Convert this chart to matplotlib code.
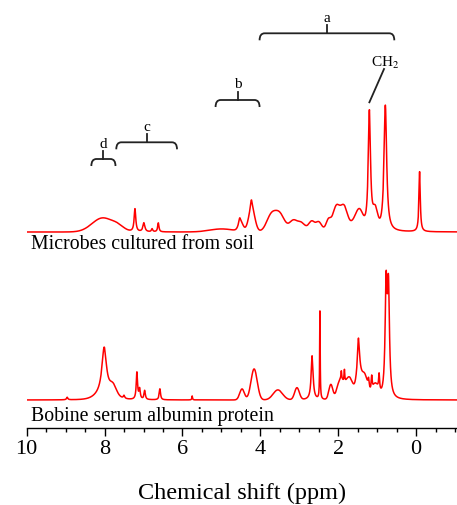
import numpy as np
import matplotlib
matplotlib.use("Agg")
import matplotlib.pyplot as plt
from matplotlib.path import Path
from matplotlib.patches import PathPatch

plt.rcParams['font.family'] = ['Liberation Serif', 'DejaVu Serif']
plt.rcParams['mathtext.fontset'] = 'stix'

# ---------------- data ----------------
# Microbes cultured from soil: sharp lines (Lorentzian) centre ppm, height, half-width
soil_line_ppm = [7.22, 6.99, 6.78, 6.62, 4.53, 4.23, 1.20, 0.79, -0.09]
soil_line_h = [23, 9, 3, 9, 6, 10, 120, 126, 60]
soil_line_w = [0.025, 0.03, 0.02, 0.02, 0.03, 0.03, 0.035, 0.04, 0.02]
# broad humps (Gaussian) centre ppm, height, sigma
soil_hump_ppm = [8.05, 7.65, 5.0, 4.5, 4.22, 3.72, 3.5, 3.15, 2.95, 2.8, 2.68, 2.5, 2.25, 2.05, 1.85, 1.6, 1.45, 1.05]
soil_hump_h = [14, 4, 3, 8, 22, 16, 16, 9, 5, 4, 7, 7, 10, 24, 24, 8, 18, 18]
soil_hump_s = [0.27, 0.15, 0.3, 0.06, 0.08, 0.12, 0.12, 0.1, 0.08, 0.4, 0.07, 0.07, 0.06, 0.09, 0.09, 0.1, 0.09, 0.06]

# Bovine serum albumin protein
bsa_line_ppm = [8.96, 8.01, 7.5, 7.17, 7.10, 6.97, 6.58, 5.75, 2.67, 2.47, 1.92, 1.84, 1.48, 1.22, 1.14, 0.95, 0.77, 0.71]
bsa_line_h = [2.5, 46, 3, 27, 10, 9, 11, 4, 44, 88, 8, 12, 34, 10, 14, 16, 108, 104]
bsa_line_w = [0.02, 0.07, 0.02, 0.02, 0.02, 0.02, 0.02, 0.01, 0.03, 0.008, 0.01, 0.01, 0.03, 0.02, 0.015, 0.015, 0.03, 0.03]
bsa_hump_ppm = [7.95, 7.78, 4.47, 4.16, 3.55, 3.06, 2.19, 1.95, 1.72, 1.48, 1.33, 1.05]
bsa_hump_h = [7, 8, 11, 31, 10, 12, 15, 19, 22, 22, 24, 14]
bsa_hump_s = [0.22, 0.08, 0.06, 0.08, 0.12, 0.06, 0.05, 0.08, 0.1, 0.06, 0.08, 0.08]

labels = ["Microbes cultured from soil", "Bobine serum albumin protein"]
xticks = [10, 8, 6, 4, 2, 0]
xlabel = "Chemical shift (ppm)"

# region brackets: (label, ppm left, ppm right)
bracket_names = ["a", "b", "c", "d"]
bracket_left = [4.02, 5.15, 7.70, 8.34]
bracket_right = [0.56, 4.02, 6.14, 7.72]

# ---------------- model ----------------
x = np.linspace(-1.05, 10, 6000)

def spectrum(lp, lh, lw, hp, hh, hs):
    y = np.zeros_like(x)
    for c, h, w in zip(lp, lh, lw):
        y += h / (1 + ((x - c) / w) ** 2)
    for c, h, s in zip(hp, hh, hs):
        y += h * np.exp(-0.5 * ((x - c) / s) ** 2)
    return y

soil = spectrum(soil_line_ppm, soil_line_h, soil_line_w, soil_hump_ppm, soil_hump_h, soil_hump_s)
bsa = spectrum(bsa_line_ppm, bsa_line_h, bsa_line_w, bsa_hump_ppm, bsa_hump_h, bsa_hump_s)

W, H = 457, 506
fig = plt.figure(figsize=(W / 100, H / 100), dpi=100)
ax = fig.add_axes([26.7 / W, 77 / H, (W - 26.7) / W, 429 / H])
ax.set_xlim(10, -1.05)
ax.set_ylim(0, 429)

top_off, bot_off = 196, 28
ax.plot(x, soil + top_off, color='#ff0000', lw=1.1)
ax.plot(x, bsa + bot_off, color='#ff0000', lw=1.1)

for s in ['top', 'left', 'right']:
    ax.spines[s].set_visible(False)
ax.spines['bottom'].set_linewidth(1.0)
ax.set_yticks([])
ax.set_xticks(xticks)
ax.set_xticks(np.arange(-1.0, 10.01, 0.5), minor=True)
ax.tick_params(axis='x', which='major', direction='out', length=6, width=1, labelsize=16, pad=2)
ax.tick_params(axis='x', which='minor', direction='out', length=3, width=1)
ax.set_xlabel(xlabel, fontsize=17.5, labelpad=17)

ax.text(9.9, top_off - 12, labels[0], fontsize=14.3, ha='left', va='center')
ax.text(9.9, bot_off - 16, labels[1], fontsize=14.3, ha='left', va='center')

# brackets (y in axis pixel units)
bracket_y = [429 - 34.3, 429 - 101, 429 - 143.3, 429 - 160]
def bracket(x1, x2, y, label, drop=7, rise=8.5, r=0.13):
    verts = [(x1, y - drop), (x1, y), (x1 - r, y), (x2 + r, y), (x2, y), (x2, y - drop)]
    codes = [Path.MOVETO, Path.CURVE3, Path.CURVE3, Path.LINETO, Path.CURVE3, Path.CURVE3]
    ax.add_patch(PathPatch(Path(verts, codes), fill=False, lw=1.3, color='#222222'))
    xm = (x1 + x2) / 2
    ax.plot([xm, xm], [y, y + rise], color='#222222', lw=1.3)
    ax.text(xm, y + rise + 1, label, fontsize=11, ha='center', va='bottom')

for n, l, r_, yb in zip(bracket_names, bracket_left, bracket_right, bracket_y):
    bracket(l, r_, yb, n)

# CH2 annotation
ax.text(0.80, 429 - 62.7, r'CH$_2$', fontsize=11, ha='center', va='center')
ax.plot([0.824, 1.20], [429 - 70, 429 - 103.3], color='#222222', lw=1.3)

fig.savefig('out.png', dpi=100)
